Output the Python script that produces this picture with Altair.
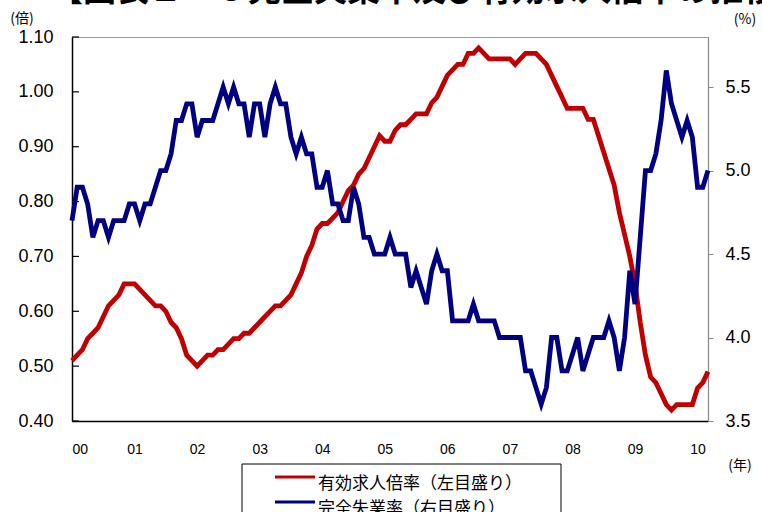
import json
import altair as alt
import pandas as pd

# ---- data (monthly, Jan 2000 - Mar 2010) ----
year_labels = ["00", "01", "02", "03", "04", "05", "06", "07", "08", "09", "10"]

job_ratio = [
    0.51, 0.52, 0.53, 0.55, 0.56, 0.57, 0.59, 0.61, 0.62, 0.63, 0.65, 0.65,
    0.65, 0.64, 0.63, 0.62, 0.61, 0.61, 0.60, 0.58, 0.57, 0.55, 0.52, 0.51,
    0.50, 0.51, 0.52, 0.52, 0.53, 0.53, 0.54, 0.55, 0.55, 0.56, 0.56, 0.57,
    0.58, 0.59, 0.60, 0.61, 0.61, 0.62, 0.63, 0.65, 0.67, 0.70, 0.72, 0.75,
    0.76, 0.76, 0.77, 0.78, 0.80, 0.82, 0.83, 0.85, 0.86, 0.88, 0.90, 0.92,
    0.91, 0.91, 0.93, 0.94, 0.94, 0.95, 0.96, 0.96, 0.96, 0.98, 0.99, 1.01,
    1.03, 1.04, 1.05, 1.05, 1.07, 1.07, 1.08, 1.07, 1.06, 1.06, 1.06, 1.06,
    1.06, 1.05, 1.06, 1.07, 1.07, 1.07, 1.06, 1.05, 1.03, 1.01, 0.99, 0.97,
    0.97, 0.97, 0.97, 0.95, 0.95, 0.92, 0.89, 0.86, 0.83, 0.78, 0.74, 0.70,
    0.65, 0.58, 0.52, 0.48, 0.47, 0.45, 0.43, 0.42, 0.43, 0.43, 0.43, 0.43,
    0.46, 0.47, 0.49,
]

unemployment = [
    4.7, 4.9, 4.9, 4.8, 4.6, 4.7, 4.7, 4.6, 4.7, 4.7, 4.7, 4.8,
    4.8, 4.7, 4.8, 4.8, 4.9, 5.0, 5.0, 5.1, 5.3, 5.3, 5.4, 5.4,
    5.2, 5.3, 5.3, 5.3, 5.4, 5.5, 5.4, 5.5, 5.4, 5.4, 5.2, 5.4,
    5.4, 5.2, 5.4, 5.5, 5.4, 5.4, 5.2, 5.1, 5.2, 5.1, 5.1, 4.9,
    4.9, 5.0, 4.8, 4.8, 4.7, 4.7, 4.9, 4.8, 4.6, 4.6, 4.5, 4.5,
    4.5, 4.6, 4.5, 4.5, 4.5, 4.3, 4.4, 4.3, 4.2, 4.4, 4.5, 4.4,
    4.4, 4.1, 4.1, 4.1, 4.1, 4.2, 4.1, 4.1, 4.1, 4.1, 4.0, 4.0,
    4.0, 4.0, 4.0, 3.8, 3.8, 3.7, 3.6, 3.7, 4.0, 4.0, 3.8, 3.8,
    3.9, 4.0, 3.8, 3.9, 4.0, 4.0, 4.0, 4.1, 4.0, 3.8, 4.0, 4.4,
    4.2, 4.6, 5.0, 5.0, 5.1, 5.3, 5.6, 5.4, 5.3, 5.2, 5.3, 5.2,
    4.9, 4.9, 5.0,
]

left_ticks = [0.40, 0.50, 0.60, 0.70, 0.80, 0.90, 1.00, 1.10]
right_ticks = [3.5, 4.0, 4.5, 5.0, 5.5]

series_names = ["有効求人倍率（左目盛り）", "完全失業率（右目盛り）"]
title_text = "【図表１－３完全失業率及び有効求人倍率の推移】"

RED = "#C00000"
NAVY = "#000080"
NUM_FONT = "Liberation Sans"
JP_FONT = "Noto Sans CJK JP"

n = len(job_ratio)
df = pd.DataFrame({"m": list(range(n)), "ratio": job_ratio, "unemp": unemployment})

label_expr = json.dumps(year_labels) + "[round(datum.value/12)]"

x_enc = alt.X(
    "m:Q",
    scale=alt.Scale(domain=[0, n - 1], nice=False, zero=False),
    axis=alt.Axis(
        values=[12 * i for i in range(len(year_labels))],
        labelExpr=label_expr,
        ticks=False, tickSize=0, labelPadding=21,
        domainColor="black", domainWidth=1.5, grid=False, title=None,
        labelFont=NUM_FONT, labelFontSize=14, labelColor="black",
    ),
)

left_scale = alt.Scale(domain=[0.4, 1.1], nice=False, zero=False)
left_axis = alt.Axis(
    orient="left", values=left_ticks, format=".2f",
    ticks=False, tickSize=0, labelPadding=19,
    domainColor="black", domainWidth=1.5, grid=False, title=None,
    labelFont=NUM_FONT, labelFontSize=18, labelColor="black",
)

red = alt.Chart(df).mark_line(color=RED, strokeWidth=4.8).encode(
    x=x_enc,
    y=alt.Y("ratio:Q", scale=left_scale, axis=left_axis),
)

left_tick_marks = alt.Chart(pd.DataFrame({"v": left_ticks})).mark_rule(
    color="black", strokeWidth=1.2
).encode(
    x=alt.value(0), x2=alt.value(7),
    y=alt.Y("v:Q", scale=left_scale, axis=left_axis),
)

blue = alt.Chart(df).mark_line(color=NAVY, strokeWidth=4.8).encode(
    x=x_enc,
    y=alt.Y(
        "unemp:Q",
        scale=alt.Scale(domain=[3.5, 5.8], nice=False, zero=False),
        axis=alt.Axis(
            orient="right", values=right_ticks, format=".1f",
            tickSize=5, tickColor="#888888", tickWidth=1, labelPadding=12,
            domainColor="#888888", domainWidth=1.2, grid=False, title=None,
            labelFont=NUM_FONT, labelFontSize=18, labelColor="black",
        ),
    ),
)


def label(text, x, y, size=14, align="center", font=JP_FONT, weight="normal", baseline="middle"):
    return alt.Chart(pd.DataFrame({"t": [text]})).mark_text(
        font=font, fontSize=size, align=align, baseline=baseline,
        fontWeight=weight, color="black",
    ).encode(x=alt.value(x), y=alt.value(y), text="t:N")


title = label(title_text, -22, -36, size=33, align="left", weight="bold", baseline="alphabetic")
unit_left = label("(倍)", -50, -18, size=14)
unit_right = label("(%)", 673, -17, size=14)
unit_year = label("(年)", 668, 429, size=14)

legend_box = alt.Chart(pd.DataFrame({"a": [0]})).mark_rect(
    fill="white", stroke="black", strokeWidth=1
).encode(x=alt.value(170), x2=alt.value(489), y=alt.value(427), y2=alt.value(505))

leg_red = alt.Chart(pd.DataFrame({"a": [0]})).mark_rule(color=RED, strokeWidth=3).encode(
    x=alt.value(203), x2=alt.value(243), y=alt.value(440)
)
leg_blue = alt.Chart(pd.DataFrame({"a": [0]})).mark_rule(color=NAVY, strokeWidth=3).encode(
    x=alt.value(203), x2=alt.value(243), y=alt.value(465)
)
leg_t1 = label(series_names[0], 246, 447, size=17, align="left")
leg_t2 = label(series_names[1], 246, 472, size=17, align="left")

chart = alt.layer(
    alt.layer(red, left_tick_marks),
    blue,
    title, unit_left, unit_right, unit_year,
    legend_box, leg_red, leg_blue, leg_t1, leg_t2,
).resolve_scale(y="independent").properties(
    width=636, height=384,
    autosize=alt.AutoSizeParams(type="none"),
    padding={"left": 72, "top": 37, "right": 54, "bottom": 91},
    background="white",
).configure_view(stroke="#999999", strokeWidth=1)

chart.save("out.html", embed_options={"renderer": "svg", "actions": False})
